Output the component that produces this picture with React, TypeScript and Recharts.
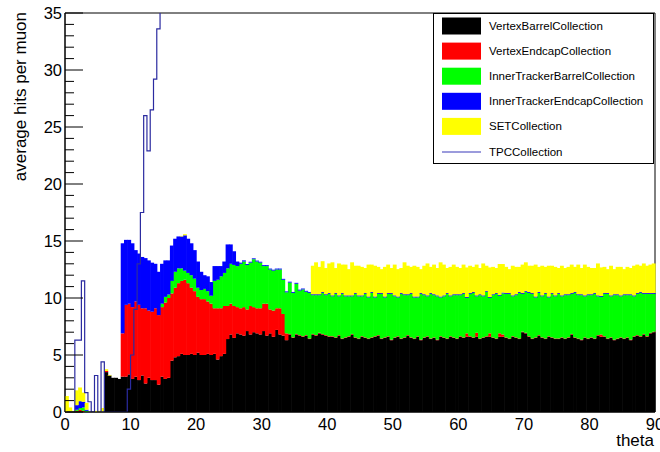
import { ComposedChart, Bar, Line, XAxis, YAxis, ReferenceArea } from 'recharts'

// 180 bins of 0.5 in theta, bin i covers [0.5*i, 0.5*i + 0.5]
const vertexBarrel = [
  0, 0, 0, 0, 0.05, 0, 0, 0, 0, 0,
  0, 0, 3.5, 3.2, 3.0, 3.0, 2.9, 3.1, 3.1, 3.3,
  2.9, 3.1, 2.8, 3.2, 2.5, 3.0, 2.8, 2.8, 2.4, 3.1,
  2.9, 3.0, 4.5, 4.8, 4.9, 5.1, 5.0, 5.0, 5.1, 5.0,
  5.2, 5.0, 5.0, 5.1, 5.0, 5.1, 4.6, 4.9, 5.1, 6.4,
  6.8, 6.5, 6.9, 6.8, 6.7, 7.1, 6.8, 7.0, 6.9, 6.8,
  7.1, 6.7, 6.9, 6.6, 7.2, 6.8, 6.7, 6.3, 6.8, 6.5,
  6.8, 6.7, 6.6, 6.7, 6.4, 6.8, 6.7, 6.9, 6.8, 6.7,
  6.6, 6.6, 6.5, 6.7, 6.4, 6.5, 6.6, 6.8, 6.5, 6.4,
  6.6, 6.5, 6.4, 6.5, 6.6, 6.7, 6.4, 6.5, 6.6, 6.3,
  6.5, 6.6, 6.4, 6.5, 6.7, 6.5, 6.4, 6.6, 6.3, 6.5,
  6.6, 6.4, 6.5, 6.3, 6.6, 6.5, 6.4, 6.6, 6.5, 6.4,
  6.6, 6.5, 6.6, 6.6, 6.5, 6.6, 6.4, 6.5, 6.6, 6.6,
  6.5, 6.4, 6.6, 6.6, 6.5, 6.4, 6.6, 6.5, 6.4, 7.0,
  6.9, 6.6, 6.4, 6.5, 6.7, 6.5, 6.4, 6.6, 6.5, 6.4,
  6.4, 6.5, 6.4, 6.5, 6.8, 6.5, 6.4, 6.3, 6.5, 6.4,
  6.5, 6.4, 6.7, 6.6, 6.6, 6.4, 6.5, 6.3, 6.4, 6.5,
  6.4, 6.5, 6.3, 6.6, 6.7, 6.6, 6.8, 6.6, 6.9, 7.0,
]

const vertexEndcap = [
  0, 0, 0, 0.1, 0.15, 0.1, 0, 0, 0, 0,
  0, 0, 0.1, 0, 0, 0, 0, 3.8, 6.3, 6.2,
  6.3, 6.6, 6.6, 5.9, 6.6, 5.9, 6.0, 6.3, 6.1, 6.1,
  6.7, 7.0, 5.9, 6.1, 6.4, 6.4, 6.6, 6.3, 5.8, 5.6,
  4.9, 4.9, 4.9, 4.6, 4.5, 4.0, 4.5, 4.2, 4.2, 2.9,
  2.7, 2.8, 2.3, 2.3, 2.5, 1.9, 2.5, 2.2, 2.2, 2.3,
  2.4, 2.8, 2.1, 2.3, 1.9, 2.3, 1.9, 0.6, 0.05, 0.05,
  0.05, 0.05, 0.05, 0.05, 0.05, 0.05, 0.05, 0.05, 0.05, 0.05,
  0.05, 0.05, 0.05, 0.05, 0.05, 0.05, 0.05, 0.05, 0.05, 0.05,
  0.05, 0.05, 0.05, 0.05, 0.05, 0.05, 0.05, 0.05, 0.05, 0.05,
  0.05, 0.05, 0.05, 0.05, 0.05, 0.05, 0.05, 0.05, 0.05, 0.05,
  0.05, 0.05, 0.05, 0.05, 0.05, 0.05, 0.05, 0.05, 0.05, 0.05,
  0.05, 0.05, 0.3, 0.05, 0.05, 0.35, 0.05, 0.05, 0.05, 0.3,
  0.05, 0.05, 0.3, 0.2, 0.05, 0.05, 0.05, 0.05, 0.05, 0.05,
  0.05, 0.05, 0.05, 0.05, 0.05, 0.05, 0.05, 0.05, 0.05, 0.05,
  0.05, 0.05, 0.05, 0.05, 0.05, 0.05, 0.05, 0.05, 0.05, 0.05,
  0.05, 0.05, 0.05, 0.2, 0.05, 0.05, 0.05, 0.05, 0.05, 0.05,
  0.05, 0.05, 0.05, 0.05, 0.05, 0.05, 0.05, 0.05, 0.05, 0.05,
]

const innerTrackerBarrel = [
  0, 0, 0, 0.1, 0.15, 0.3, 0.1, 0, 0, 0,
  0, 0, 0, 0, 0, 0, 0, 0, 0, 0,
  0, 0, 0, 0, 0, 0, 0, 0, 0, 0.3,
  0.5, 0.3, 1.1, 1.4, 1.3, 1.1, 0.8, 0.9, 1.1, 1.1,
  0.8, 0.8, 0.9, 0.9, 0.7, 2.4, 2.5, 2.8, 2.9, 3.3,
  3.5, 3.6, 3.6, 3.9, 4.0, 3.9, 3.8, 4.2, 4.1, 4.0,
  3.3, 3.3, 3.5, 3.5, 3.4, 3.4, 3.0, 3.6, 4.5, 3.9,
  4.4, 3.9, 4.1, 3.8, 4.0, 3.4, 3.5, 3.3, 3.6, 3.5,
  3.7, 3.5, 3.8, 3.4, 3.9, 3.6, 3.5, 3.3, 3.8, 3.7,
  3.5, 3.8, 3.6, 3.9, 3.4, 3.6, 3.9, 3.5, 3.7, 4.0,
  3.6, 3.4, 3.9, 3.7, 3.5, 3.8, 3.6, 3.4, 4.0, 3.7,
  3.5, 3.9, 3.7, 3.8, 3.4, 3.6, 3.9, 3.5, 3.7, 3.8,
  3.6, 3.8, 3.1, 3.7, 3.9, 3.2, 3.8, 3.6, 3.9, 3.1,
  3.7, 3.9, 3.3, 3.6, 3.8, 3.9, 3.5, 3.7, 4.0, 3.3,
  3.6, 3.8, 3.9, 3.5, 3.7, 3.6, 3.9, 3.4, 3.8, 3.7,
  3.9, 3.6, 3.8, 3.7, 3.5, 3.9, 3.8, 3.9, 3.6, 3.8,
  3.7, 3.9, 3.4, 3.3, 3.7, 3.9, 3.6, 3.9, 3.8, 3.6,
  3.8, 3.7, 3.9, 3.5, 3.6, 3.8, 3.5, 3.7, 3.4, 3.3,
]

const innerTrackerEndcap = [
  0, 0, 0, 0.4, 0.6, 0.5, 0.1, 0, 0, 0,
  0, 0.05, 0, 0, 0, 0, 0, 7.9, 5.7, 5.6,
  5.6, 4.5, 4.5, 4.5, 4.4, 4.4, 4.3, 3.9, 3.8, 3.5,
  3.2, 3.0, 3.1, 2.9, 2.8, 2.8, 3.1, 3.0, 2.8, 2.5,
  2.3, 1.6, 1.2, 1.3, 1.2, 1.3, 1.2, 0.9, 1.0, 2.1,
  1.7, 1.2, 0.4, 0.1, 0.1, 0.08, 0.08, 0.08, 0.08, 0.08,
  0.08, 0.08, 0.08, 0.08, 0.08, 0.08, 0.08, 0.08, 0.08, 0.08,
  0.08, 0.08, 0.08, 0.08, 0.08, 0.08, 0.08, 0.08, 0.08, 0.08,
  0.08, 0.08, 0.08, 0.08, 0.08, 0.08, 0.08, 0.08, 0.08, 0.08,
  0.08, 0.08, 0.08, 0.08, 0.08, 0.08, 0.08, 0.08, 0.08, 0.08,
  0.08, 0.08, 0.08, 0.08, 0.08, 0.08, 0.08, 0.08, 0.08, 0.08,
  0.08, 0.08, 0.08, 0.08, 0.08, 0.08, 0.08, 0.08, 0.08, 0.08,
  0.08, 0.08, 0.08, 0.08, 0.08, 0.08, 0.08, 0.08, 0.08, 0.08,
  0.08, 0.08, 0.08, 0.08, 0.08, 0.08, 0.08, 0.08, 0.08, 0.08,
  0.08, 0.08, 0.08, 0.08, 0.08, 0.08, 0.08, 0.08, 0.08, 0.08,
  0.08, 0.08, 0.08, 0.08, 0.08, 0.08, 0.08, 0.08, 0.08, 0.08,
  0.08, 0.08, 0.08, 0.08, 0.08, 0.08, 0.08, 0.08, 0.08, 0.08,
  0.08, 0.08, 0.08, 0.08, 0.08, 0.08, 0.08, 0.08, 0.08, 0.08,
]

const setHits = [
  1.4, 0.4, 0.1, 1.3, 1.2, 0.8, 0.6, 0, 0, 0.1,
  0.1, 0.3, 0.15, 0.05, 0, 0, 0, 0, 0, 0,
  0, 0, 0, 0, 0, 0, 0, 0, 0, 0,
  0, 0, 0, 0, 0, 0.05, 0.1, 0, 0, 0,
  0, 0, 0, 0, 0, 0, 0, 0, 0, 0,
  0, 0, 0, 0, 0, 0, 0, 0, 0, 0,
  0, 0, 0, 0, 0, 0, 0, 0, 0, 0,
  0, 0, 0, 0, 0, 2.5, 2.8, 2.4, 2.7, 2.3,
  2.6, 2.9, 2.2, 2.8, 2.5, 2.7, 2.3, 2.9, 2.4, 2.6,
  2.5, 2.2, 2.8, 2.4, 2.7, 2.3, 2.1, 2.6, 2.5, 2.2,
  2.7, 2.4, 2.2, 2.8, 2.5, 2.3, 2.7, 2.6, 2.1, 2.5,
  2.8, 2.3, 2.6, 2.4, 3.0, 2.7, 2.2, 2.5, 2.6, 2.4,
  2.3, 2.5, 2.6, 2.4, 2.2, 2.7, 2.3, 2.8, 2.2, 2.6,
  2.4, 2.2, 2.7, 2.5, 2.3, 2.1, 2.6, 2.4, 2.2, 2.5,
  2.5, 2.3, 2.4, 2.8, 2.2, 2.6, 2.3, 2.7, 2.4, 2.5,
  2.2, 2.6, 2.3, 2.4, 2.5, 2.2, 2.6, 2.3, 2.7, 2.4,
  2.3, 2.2, 2.8, 2.5, 2.3, 2.1, 2.6, 2.2, 2.4, 2.5,
  2.2, 2.4, 2.3, 2.6, 2.5, 2.3, 2.6, 2.4, 2.5, 2.6,
]

// TPC goes off the top of the frame after ~15 deg
const tpcHits = [
  0, 0, 0, 6.3, 6.3, 11.5, 1.7, 0.9, 0, 3.2,
  0, 4.4, 0, 0, 0, 0, 0, 0, 0, 2.0,
  5.0, 9.0, 13.0, 17.5, 26.0, 22.9, 26.5, 29.2, 33.6, 41.0,
  52.0, 66.0,
]

const thetaTicks = [0, 10, 20, 30, 40, 50, 60, 70, 80, 90]
const hitTicks = [
  0, 1, 2, 3, 4, 5, 6, 7, 8, 9, 10, 11, 12, 13, 14, 15, 16, 17,
  18, 19, 20, 21, 22, 23, 24, 25, 26, 27, 28, 29, 30, 31, 32, 33, 34, 35,
]

const series = [
  { key: 'vertexBarrel', label: 'VertexBarrelCollection', color: '#000000' },
  { key: 'vertexEndcap', label: 'VertexEndcapCollection', color: '#ff0000' },
  { key: 'innerTrackerBarrel', label: 'InnerTrackerBarrelCollection', color: '#00ff00' },
  { key: 'innerTrackerEndcap', label: 'InnerTrackerEndcapCollection', color: '#0000ff' },
  { key: 'set', label: 'SETCollection', color: '#ffff00' },
]
const tpcColor = '#2b2ba0'

const data = vertexBarrel.map((v, i) => ({
  bin: i,
  mid: i * 0.5 + 0.25,
  vertexBarrel: v,
  vertexEndcap: vertexEndcap[i],
  innerTrackerBarrel: innerTrackerBarrel[i],
  innerTrackerEndcap: innerTrackerEndcap[i],
  set: setHits[i],
  tpc: tpcHits[i] ?? null,
}))

const FONT = '"Liberation Sans", Arial, Helvetica, sans-serif'
const W = 660
const H = 452

function HitsTick(props: any) {
  const { x, y, payload } = props
  const major = payload.value % 5 === 0
  return (
    <g>
      <line x1={x} y1={y} x2={x + (major ? 18 : 9)} y2={y} stroke='#000' />
      {major && (
        <text x={x - 3} y={y + 6} textAnchor='end' fontSize={16.5} fontFamily={FONT} fill='#000'>
          {payload.value}
        </text>
      )}
    </g>
  )
}

function ThetaTick(props: any) {
  const { x, y, payload } = props
  return (
    <text x={x} y={y + 18} textAnchor='middle' fontSize={16.5} fontFamily={FONT} fill='#000'>
      {payload.value}
    </text>
  )
}

// histogram bins: widen a hair so neighbouring bins leave no seam
function BinRect(props: any) {
  const { x, y, width, height, fill } = props
  if (!height || height <= 0) return null
  return <rect x={x} y={y} width={width + 0.6} height={height} fill={fill} />
}

export default function App() {
  return (
    <div style={{ position: 'absolute', left: 0, top: 0, width: W, height: H, background: '#fff' }}>
      <ComposedChart
        width={W}
        height={H}
        data={data}
        margin={{ top: 13, right: 5, bottom: 0, left: 0 }}
        barCategoryGap={0}
        barGap={0}
      >
        <XAxis xAxisId='bins' dataKey='bin' type='category' hide height={0} />
        <XAxis
          xAxisId='theta'
          dataKey='mid'
          type='number'
          domain={[0, 90]}
          allowDataOverflow
          ticks={thetaTicks}
          interval={0}
          height={40}
          tickSize={0}
          tickMargin={0}
          tickLine={false}
          axisLine={{ stroke: '#000' }}
          tick={<ThetaTick />}
        />
        <YAxis
          yAxisId='y'
          type='number'
          domain={[0, 35]}
          allowDataOverflow
          ticks={hitTicks}
          interval={0}
          width={65}
          tickSize={0}
          tickMargin={0}
          tickLine={false}
          axisLine={{ stroke: '#000' }}
          tick={<HitsTick />}
        />

        {series.map((s) => (
          <Bar
            key={s.key}
            dataKey={s.key}
            xAxisId='bins'
            yAxisId='y'
            stackId='stack'
            fill={s.color}
            barSize={3.27}
            shape={<BinRect />}
            isAnimationActive={false}
          />
        ))}

        <Line
          dataKey='tpc'
          xAxisId='bins'
          yAxisId='y'
          type='step'
          stroke={tpcColor}
          strokeWidth={1.2}
          dot={false}
          activeDot={false}
          isAnimationActive={false}
        />

        <ReferenceArea
          xAxisId='theta'
          yAxisId='y'
          x1={0}
          x2={90}
          y1={0}
          y2={35}
          fill='none'
          stroke='#000'
          strokeWidth={1}
        />
      </ComposedChart>

      <svg
        width={W}
        height={H}
        style={{ position: 'absolute', left: 0, top: 0, pointerEvents: 'none' }}
        fontFamily={FONT}
      >
        <text x={654} y={446} textAnchor='end' fontSize={17} fill='#000'>
          theta
        </text>
        <text
          x={26}
          y={12}
          textAnchor='end'
          fontSize={17}
          fill='#000'
          transform='rotate(-90 26 12)'
        >
          average hits per muon
        </text>

        <rect x={433.5} y={13.5} width={220} height={150} fill='#fff' stroke='#000' />
        {series.map((s, i) => {
          const cy = 26 + i * 25.1
          return (
            <g key={s.key}>
              <rect x={442} y={cy - 8.5} width={39} height={17} fill={s.color} />
              <text x={489} y={cy + 4} fontSize={11.5} fill='#000'>
                {s.label}
              </text>
            </g>
          )
        })}
        <line x1={442} x2={481} y1={152} y2={152} stroke='#7a7ad0' strokeWidth={1.5} />
        <text x={489} y={156} fontSize={11.5} fill='#000'>
          TPCCollection
        </text>
      </svg>
    </div>
  )
}
